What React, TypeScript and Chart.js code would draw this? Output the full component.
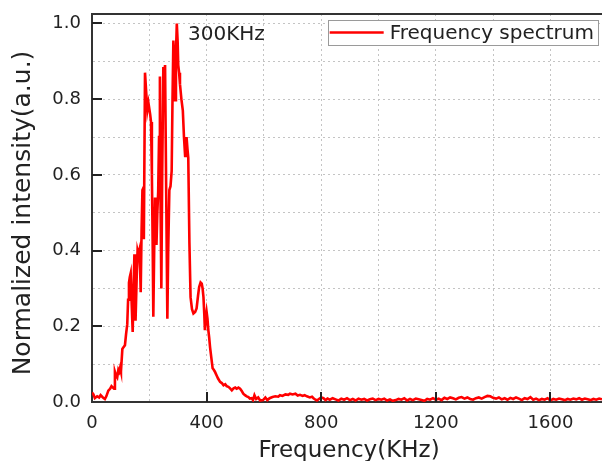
import React, { useEffect, useRef } from "react";
import { Chart, registerables } from "chart.js";

Chart.register(...registerables);

const freq = [
  0, 5, 10, 18, 25, 30, 38, 45, 50, 57, 63, 68, 73, 77, 80, 84, 88, 92, 95, 98,
  101, 106, 110, 115, 119, 123, 126, 129, 132, 135, 138, 142, 145, 148, 150, 152, 156, 159, 162, 165,
  168, 170, 173, 176, 179, 181, 185, 189, 193, 197, 200, 203, 206, 209, 212, 214, 217, 220, 223, 225,
  228, 231, 234, 237, 239, 242, 245, 249, 252, 255, 259, 263, 266, 270, 274, 278, 281, 284, 287, 290,
  293, 296, 299, 301, 304, 307, 312, 317, 321, 325, 328, 330, 333, 336, 340, 344, 349, 354, 360, 365,
  370, 374, 379, 383, 386, 389, 392, 394, 397, 400, 403, 406, 409, 412, 416, 421, 425, 429, 432, 435,
  440, 447, 453, 459, 465, 470, 476, 482, 488, 494, 500, 505, 511, 517, 522, 528, 534, 540, 546, 551,
  557, 562, 567, 573, 580, 587, 597, 605, 612, 620, 630, 640, 650, 656, 665, 675, 685, 691, 700, 710,
  718, 726, 735, 742, 750, 760, 768, 773, 780, 785, 792, 800, 808, 815, 822, 830, 840, 850, 860, 870,
  880, 890, 900, 910, 920, 930, 940, 950, 960, 970, 980, 990, 1000, 1010, 1020, 1030, 1040, 1050, 1060, 1070,
  1080, 1090, 1100, 1110, 1120, 1130, 1140, 1150, 1160, 1170, 1180, 1190, 1200, 1210, 1220, 1230, 1240, 1250, 1260, 1270,
  1280, 1290, 1300, 1310, 1320, 1330, 1340, 1350, 1360, 1370, 1380, 1390, 1400, 1410, 1420, 1430, 1440, 1450, 1460, 1470,
  1480, 1490, 1500, 1510, 1520, 1530, 1540, 1550, 1560, 1570, 1580, 1590, 1600, 1610, 1620, 1630, 1640, 1650, 1660, 1670,
  1680, 1690, 1700, 1710, 1720, 1730, 1740, 1750, 1760, 1770, 1780, 1790,
];

const intensity = [
  0.025, 0.02, 0.01, 0.015, 0.012, 0.018, 0.012, 0.008, 0.015, 0.03, 0.035, 0.042, 0.038, 0.035, 0.08, 0.07, 0.065, 0.085, 0.08, 0.09,
  0.08, 0.14, 0.145, 0.15, 0.18, 0.205, 0.27, 0.315, 0.33, 0.34, 0.27, 0.185, 0.3, 0.39, 0.3, 0.215, 0.33, 0.4, 0.39, 0.4,
  0.35, 0.29, 0.45, 0.56, 0.565, 0.43, 0.87, 0.82, 0.77, 0.79, 0.775, 0.76, 0.74, 0.6, 0.4, 0.225, 0.4, 0.54, 0.48, 0.415,
  0.5, 0.555, 0.7, 0.86, 0.55, 0.3, 0.6, 0.885, 0.87, 0.89, 0.55, 0.22, 0.4, 0.56, 0.57, 0.61, 0.8, 0.955, 0.9, 0.797,
  0.92, 1.0, 0.95, 0.89, 0.87, 0.84, 0.8, 0.77, 0.7, 0.65, 0.68, 0.7, 0.67, 0.645, 0.42, 0.277, 0.245, 0.234, 0.238, 0.247,
  0.28, 0.304, 0.316, 0.313, 0.3, 0.277, 0.23, 0.19, 0.22, 0.238, 0.22, 0.19, 0.17, 0.145, 0.12, 0.089, 0.085, 0.08, 0.075, 0.07,
  0.062, 0.053, 0.05, 0.044, 0.047, 0.042, 0.04, 0.036, 0.031, 0.036, 0.038, 0.035, 0.038, 0.035, 0.03, 0.022, 0.018, 0.015, 0.013, 0.009,
  0.01, 0.005, 0.018, 0.008, 0.012, 0.004, 0.005, 0.012, 0.005, 0.01, 0.013, 0.015, 0.014, 0.018, 0.016, 0.02, 0.019, 0.022, 0.02, 0.022,
  0.017, 0.019, 0.016, 0.018, 0.015, 0.012, 0.014, 0.01, 0.006, 0.004, 0.008, 0.012, 0.01, 0.005, 0.009, 0.006, 0.01, 0.007, 0.004, 0.009,
  0.006, 0.01, 0.005, 0.008, 0.004, 0.009, 0.006, 0.008, 0.004, 0.007, 0.009, 0.005, 0.008, 0.006, 0.009, 0.004, 0.007, 0.003, 0.005, 0.008,
  0.006, 0.01, 0.004, 0.008, 0.005, 0.009, 0.007, 0.005, 0.003, 0.008, 0.006, 0.01, 0.006, 0.009, 0.005, 0.011, 0.008, 0.012, 0.01, 0.007,
  0.011, 0.013, 0.009, 0.012, 0.008, 0.006, 0.01, 0.012, 0.009, 0.013, 0.016, 0.015, 0.011, 0.009, 0.012, 0.007, 0.01, 0.006, 0.011, 0.008,
  0.012, 0.009, 0.005, 0.01, 0.008, 0.013, 0.006, 0.009, 0.005, 0.008, 0.006, 0.01, 0.004, 0.008, 0.006, 0.009, 0.007, 0.005, 0.008, 0.006,
  0.009, 0.007, 0.01, 0.006, 0.009, 0.007, 0.005, 0.008, 0.006, 0.009, 0.007, 0.008,
];

const xGridValues = [0, 200, 400, 600, 800, 1000, 1200, 1400, 1600];
const xLabelValues = [0, 400, 800, 1200, 1600];
const yGridValues = [0, 0.1, 0.2, 0.3, 0.4, 0.5, 0.6, 0.7, 0.8, 0.9, 1.0];
const yLabelValues = [0, 0.2, 0.4, 0.6, 0.8, 1.0];

const seriesLabel = "Frequency spectrum";
const xTitle = "Frequency(KHz)";
const yTitle = "Normalized intensity(a.u.)";
const peakLabel = "300KHz";
const peakLabelAt = [335, 0.97];
const xMax = 1780;
const yMax = 1.025;

const FONT = "'DejaVu Sans', 'Liberation Sans', Arial, sans-serif";

const isIn = (arr: number[], v: number) => arr.some((a) => Math.abs(a - v) < 1e-6);

const decor = {
  id: "decor",
  afterDraw(chart: any) {
    const { ctx, chartArea: a, scales } = chart;
    const x = scales.x;
    const y = scales.y;
    ctx.save();
    // top frame line
    ctx.strokeStyle = "#333";
    ctx.lineWidth = 2;
    ctx.beginPath();
    ctx.moveTo(a.left - 1, a.top);
    ctx.lineTo(a.right, a.top);
    ctx.stroke();
    // inward major ticks
    ctx.strokeStyle = "#222";
    ctx.lineWidth = 2;
    ctx.beginPath();
    xLabelValues.forEach((v) => {
      if (v > 0) {
        const px = Math.round(x.getPixelForValue(v));
        ctx.moveTo(px, a.bottom);
        ctx.lineTo(px, a.bottom - 10);
      }
    });
    yLabelValues.forEach((v) => {
      if (v > 0) {
        const py = Math.round(y.getPixelForValue(v));
        ctx.moveTo(a.left, py);
        ctx.lineTo(a.left + 10, py);
      }
    });
    ctx.stroke();

    // peak annotation
    ctx.fillStyle = "#222";
    ctx.font = `20px ${FONT}`;
    ctx.textAlign = "left";
    ctx.textBaseline = "middle";
    ctx.fillText(peakLabel, x.getPixelForValue(peakLabelAt[0]), y.getPixelForValue(peakLabelAt[1]));

    // legend
    const ds = chart.data.datasets[0];
    ctx.font = `20px ${FONT}`;
    const tw = ctx.measureText(ds.label).width;
    const lineLen = 54;
    const w = 2 + lineLen + 6 + tw + 4;
    const h = 25;
    const bx = a.right - 4 - w;
    const by = a.top + 6;
    ctx.fillStyle = "#fff";
    ctx.fillRect(bx, by, w, h);
    ctx.strokeStyle = "#9a9a9a";
    ctx.lineWidth = 1;
    ctx.strokeRect(Math.round(bx) + 0.5, by + 0.5, Math.round(w), h);
    ctx.strokeStyle = ds.borderColor;
    ctx.lineWidth = 2.4;
    ctx.beginPath();
    ctx.moveTo(bx + 2, by + h / 2);
    ctx.lineTo(bx + 2 + lineLen, by + h / 2);
    ctx.stroke();
    ctx.fillStyle = "#222";
    ctx.textBaseline = "middle";
    ctx.fillText(ds.label, bx + 2 + lineLen + 6, by + h / 2 + 1);

    // axis titles
    ctx.font = `23px ${FONT}`;
    ctx.textAlign = "center";
    ctx.textBaseline = "alphabetic";
    ctx.fillText(xTitle, (a.left + a.right) / 2 + 2, 457);
    ctx.save();
    ctx.translate(30, (a.top + a.bottom) / 2 + 5);
    ctx.rotate(-Math.PI / 2);
    ctx.font = `25px ${FONT}`;
    ctx.fillText(yTitle, 0, 0);
    ctx.restore();
    ctx.restore();
  },
};

export default function App() {
  const ref = useRef<HTMLCanvasElement | null>(null);
  useEffect(() => {
    if (!ref.current) return;
    const points = freq.map((f, i) => ({ x: f, y: intensity[i] }));
    const chart = new Chart(ref.current, {
      type: "line",
      data: {
        datasets: [
          {
            label: seriesLabel,
            data: points,
            borderColor: "#ff0000",
            borderWidth: 2.6,
            pointRadius: 0,
            tension: 0,
            fill: false,
          },
        ],
      },
      options: {
        animation: false,
        responsive: false,
        devicePixelRatio: 1,
        layout: { padding: { top: 14, left: 0, right: 0, bottom: 0 } },
        plugins: { legend: { display: false }, tooltip: { enabled: false } },
        scales: {
          x: {
            type: "linear",
            min: 0,
            max: xMax,
            afterBuildTicks(scale: any) {
              scale.ticks = xGridValues.map((v) => ({ value: v }));
            },
            afterFit(scale: any) {
              scale.height = 59;
              scale.paddingLeft = 0;
              scale.paddingRight = 0;
              scale.paddingTop = 0;
              scale.paddingBottom = 0;
            },
            ticks: {
              autoSkip: false,
              maxRotation: 0,
              padding: 11,
              color: "#222",
              font: { family: FONT, size: 18 },
              callback: (v: any) => (isIn(xLabelValues, Number(v)) ? String(v) : ""),
            },
            grid: { color: "#c4c4c4", lineWidth: 1, drawTicks: false },
            border: { display: true, color: "#333", width: 2, dash: [2, 3] },
          },
          y: {
            type: "linear",
            min: 0,
            max: yMax,
            afterBuildTicks(scale: any) {
              scale.ticks = yGridValues.map((v) => ({ value: v }));
            },
            afterFit(scale: any) {
              scale.width = 92;
              scale.paddingLeft = 0;
              scale.paddingRight = 0;
              scale.paddingTop = 0;
              scale.paddingBottom = 0;
            },
            ticks: {
              autoSkip: false,
              padding: 11,
              color: "#222",
              font: { family: FONT, size: 18 },
              callback: (v: any) => (isIn(yLabelValues, Number(v)) ? Number(v).toFixed(1) : ""),
            },
            grid: { color: "#c4c4c4", lineWidth: 1, drawTicks: false },
            border: { display: true, color: "#333", width: 2, dash: [2, 3] },
          },
        },
      },
      plugins: [decor],
    });
    return () => chart.destroy();
  }, []);
  return (
    <div style={{ position: "absolute", left: 0, top: 0, width: 602, height: 461, background: "#fff" }}>
      <canvas ref={ref} width={602} height={461} />
    </div>
  );
}
